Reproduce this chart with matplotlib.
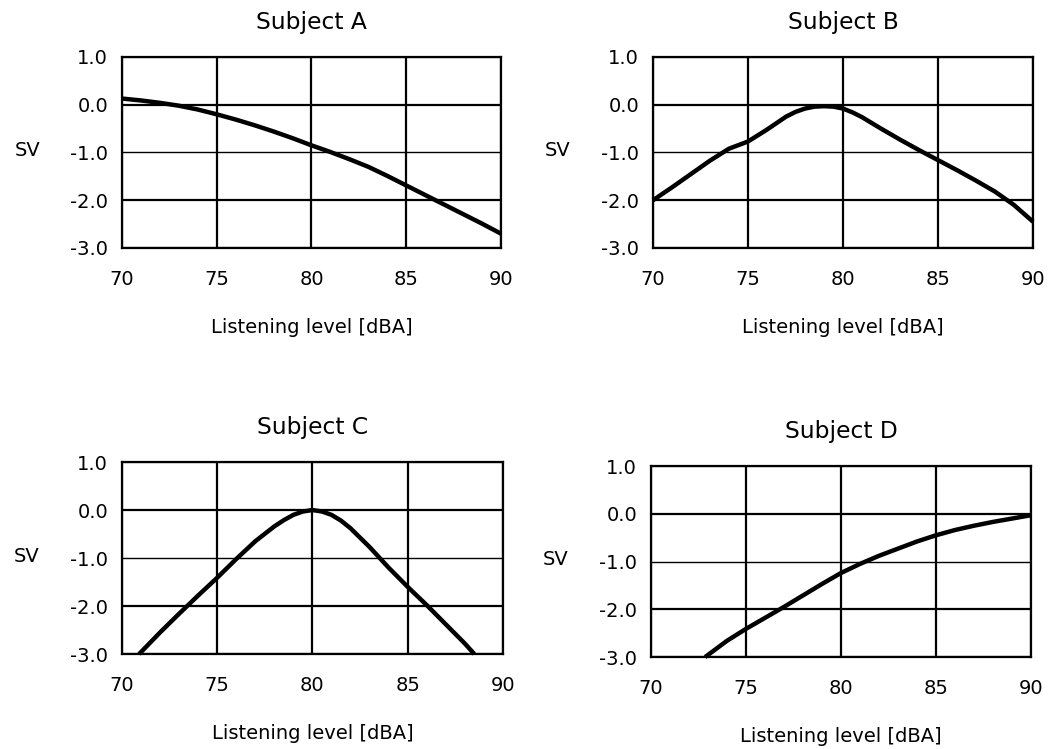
import matplotlib
matplotlib.use("Agg")
import matplotlib.pyplot as plt

plt.rcParams['font.family'] = ['DejaVu Sans']
plt.rcParams['font.size'] = 14

# listening level [dBA] and SV
a_x = [70, 71, 72, 73, 74, 75, 76, 77, 78, 79, 80, 81, 82, 83, 84, 85, 86, 87, 88, 89, 90]
a_y = [0.13, 0.09, 0.04, -0.02, -0.1, -0.2, -0.31, -0.43, -0.56, -0.7, -0.85, -0.99,
       -1.14, -1.3, -1.49, -1.69, -1.89, -2.09, -2.29, -2.49, -2.7]

b_x = [70, 71, 72, 73, 74, 75, 76, 77, 77.5, 78, 78.5, 79, 79.5, 80, 80.5, 81, 82, 83,
       84, 85, 86, 87, 88, 89, 90]
b_y = [-2.0, -1.73, -1.45, -1.17, -0.92, -0.77, -0.52, -0.25, -0.15, -0.08, -0.04, -0.03,
       -0.04, -0.08, -0.16, -0.26, -0.5, -0.73, -0.95, -1.16, -1.37, -1.59, -1.82, -2.1,
       -2.45]

c_x = [70.9, 72, 73, 74, 75, 76, 77, 78, 78.5, 79, 79.5, 80, 80.5, 81, 81.5, 82, 83, 84,
       85, 86, 87, 88, 88.5]
c_y = [-3.0, -2.55, -2.16, -1.78, -1.41, -1.02, -0.65, -0.34, -0.21, -0.1, -0.03, 0.0,
       -0.03, -0.1, -0.22, -0.38, -0.77, -1.2, -1.6, -1.98, -2.38, -2.78, -3.0]

d_x = [72.85, 74, 75, 76, 77, 78, 79, 80, 81, 82, 83, 84, 85, 86, 87, 88, 89, 90]
d_y = [-3.0, -2.66, -2.41, -2.18, -1.95, -1.71, -1.47, -1.24, -1.05, -0.88, -0.73, -0.58,
       -0.45, -0.34, -0.25, -0.17, -0.1, -0.03]

titles = ['Subject A', 'Subject B', 'Subject C', 'Subject D']
series = [(a_x, a_y), (b_x, b_y), (c_x, c_y), (d_x, d_y)]
x_ticks = [70, 75, 80, 85, 90]
y_ticks = [-3, -2, -1, 0, 1]

fig = plt.figure(figsize=(10.58, 7.49), dpi=100)
rects = [
    [0.1153, 0.6689, 0.3582, 0.2550],
    [0.6172, 0.6689, 0.3592, 0.2550],
    [0.1153, 0.1268, 0.3600, 0.2563],
    [0.6153, 0.1228, 0.3592, 0.2550],
]

for rect, title, (xs, ys) in zip(rects, titles, series):
    ax = fig.add_axes(rect)
    ax.plot(xs, ys, color='black', lw=3.2, solid_capstyle='butt',
            solid_joinstyle='round', zorder=3, clip_on=False)
    ax.set_xlim(70, 90)
    ax.set_ylim(-3, 1)
    ax.set_xticks(x_ticks)
    ax.set_yticks(y_ticks)
    ax.set_yticklabels([f'{v:.1f}' for v in y_ticks])
    ax.tick_params(length=0)
    ax.tick_params(axis='x', pad=16)
    ax.tick_params(axis='y', pad=10)
    ax.grid(True, color='black', lw=1.6)
    for i, gl in enumerate(ax.get_ygridlines()):
        if y_ticks[i] == -1:
            gl.set_linewidth(1.0)
    for s in ax.spines.values():
        s.set_linewidth(1.6)
    ax.set_title(title, pad=20)
    ax.set_xlabel('Listening level [dBA]', labelpad=21)
    ax.set_ylabel('SV', rotation=0, va='center', ha='center')
    ax.yaxis.set_label_coords(-0.25, 0.51)

fig.savefig('out.png', dpi=100)
